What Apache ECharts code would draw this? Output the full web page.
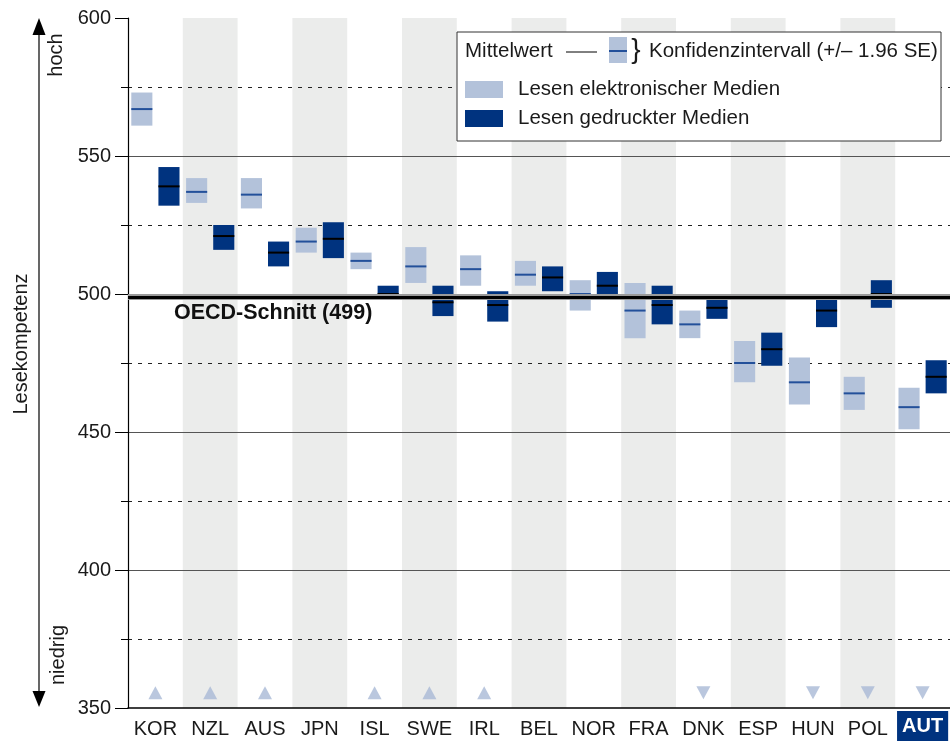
<!DOCTYPE html>
<html>
<head>
<meta charset="utf-8">
<script src="https://cdn.jsdelivr.net/npm/echarts@6/dist/echarts.min.js"></script>
<style>html,body{margin:0;padding:0;background:#fff}#c{width:950px;height:742px}</style>
</head>
<body>
<div id="c"></div>
<script>
// ---- data ----
const countries = ['KOR','NZL','AUS','JPN','ISL','SWE','IRL','BEL','NOR','FRA','DNK','ESP','HUN','POL','AUT'];
// Lesen elektronischer Medien
const elecMean = [567, 537, 536, 519, 512, 510, 509, 507, 500, 494, 489, 475, 468, 464, 459];
const elecLow  = [561, 533, 531, 515, 509, 504, 503, 503, 494, 484, 484, 468, 460, 458, 451];
const elecHigh = [573, 542, 542, 524, 515, 517, 514, 512, 505, 504, 494, 483, 477, 470, 466];
// Lesen gedruckter Medien
const printMean = [539, 521, 515, 520, 500, 497, 496, 506, 503, 496, 495, 480, 494, 500, 470];
const printLow  = [532, 516, 510, 513, 498, 492, 490, 501, 498, 489, 491, 474, 488, 495, 464];
const printHigh = [546, 525, 519, 526, 503, 503, 501, 510, 508, 503, 499, 486, 500, 505, 476];
// significance markers
const arrows = ['up','up','up','','up','up','up','','','','down','','down','down','down'];
const oecdMean = 499;
const yTicks = [350, 400, 450, 500, 550, 600];

const FONT = '"Liberation Sans", Arial, Helvetica, sans-serif';
const LIGHT = '#b3c2da', DARK = '#00337f';
const MARKER_LEVEL = 355.5;

function render(side, fill, meanColor) {
  return function (params, api) {
    const i = api.value(0);
    const pLo = api.coord([i, api.value(1)]);
    const pHi = api.coord([i, api.value(2)]);
    const pM = api.coord([i, api.value(3)]);
    const bw = api.size([1, 0])[0];
    const w = bw * 0.385, gap = bw * 0.055;
    const x0 = side < 0 ? pLo[0] - gap - w : pLo[0] + gap;
    return {
      type: 'group',
      children: [
        { type: 'rect', shape: { x: x0, y: pHi[1], width: w, height: pLo[1] - pHi[1] }, style: { fill: fill } },
        { type: 'line', shape: { x1: x0, y1: pM[1], x2: x0 + w, y2: pM[1] }, style: { stroke: meanColor, lineWidth: 2 } }
      ]
    };
  };
}

const elecData = countries.map((c, i) => [i, elecLow[i], elecHigh[i], elecMean[i]]);
const printData = countries.map((c, i) => [i, printLow[i], printHigh[i], printMean[i]]);
const markerData = [];
arrows.forEach((a, i) => {
  if (a) markerData.push({ value: [i, MARKER_LEVEL], symbolRotate: a === 'down' ? 180 : 0 });
});

const LEG_FONT = '20.5px ' + FONT;

const chart = echarts.init(document.getElementById('c'), null, { renderer: 'canvas' });
chart.setOption({
  animation: false,
  backgroundColor: '#fff',
  textStyle: { fontFamily: FONT },
  grid: { left: 128, right: 0, top: 18, bottom: 34, containLabel: false, outerBoundsMode: 'none' },
  xAxis: {
    type: 'category',
    data: countries,
    boundaryGap: true,
    z: 0,
    axisLine: { show: true, lineStyle: { color: '#000', width: 1.5 } },
    axisTick: { show: false },
    splitArea: { show: true, interval: 0, areaStyle: { color: ['rgba(255,255,255,0)', '#ebeceb'] } },
    axisLabel: {
      interval: 0, margin: 3, fontSize: 20, color: '#1a1a1a', fontFamily: FONT,
      formatter: v => v === 'AUT' ? '{hl|' + v + '}' : '{n|' + v + '}',
      rich: {
        n: { fontSize: 20, color: '#1a1a1a', padding: [8, 0, 0, 0], fontFamily: FONT },
        hl: { backgroundColor: DARK, color: '#fff', fontWeight: 'bold', fontSize: 20, padding: [5, 5, 5, 5], fontFamily: FONT }
      }
    }
  },
  yAxis: {
    type: 'value', min: 350, max: 600, interval: 50,
    z: 1,
    axisLine: { show: true, lineStyle: { color: '#000', width: 1.2 } },
    axisTick: { show: true, length: 13, lineStyle: { color: '#000' } },
    minorTick: { show: true, splitNumber: 2, length: 7, lineStyle: { color: '#000' } },
    axisLabel: { fontSize: 20, color: '#1a1a1a', margin: 17, fontFamily: FONT,
      formatter: v => yTicks.indexOf(v) >= 0 ? String(v) : '' },
    splitLine: { show: true, showMinLine: false, showMaxLine: false, lineStyle: { color: '#555', width: 1.2 } },
    minorSplitLine: { show: true, lineStyle: { color: '#222', width: 1, type: [4, 6] } }
  },
  legend: {
    data: ['Lesen elektronischer Medien', 'Lesen gedruckter Medien'],
    orient: 'vertical', left: 465, top: 79, itemGap: 8, z: 60, padding: 0,
    icon: 'rect', itemWidth: 38, itemHeight: 17,
    textStyle: { fontSize: 20.5, color: '#1a1a1a', fontFamily: FONT, padding: [0, 0, 0, 10], lineHeight: 17 },
    selectedMode: false
  },
  series: [
    {
      name: 'Lesen elektronischer Medien', type: 'custom', data: elecData,
      itemStyle: { color: LIGHT }, renderItem: render(-1, LIGHT, '#23509a'), z: 3,
      markLine: {
        silent: true, symbol: 'none', animation: false,
        data: [
          { yAxis: oecdMean, lineStyle: { color: '#9a9a9a', width: 6, type: 'solid' }, label: { show: false } },
          { yAxis: oecdMean, lineStyle: { color: '#000', width: 3, type: 'solid' },
            label: { show: true, position: 'insideStartBottom', formatter: 'OECD-Schnitt (' + oecdMean + ')',
              fontSize: 21.5, fontWeight: 'bold', color: '#111', fontFamily: FONT, distance: [46, 5] } }
        ]
      }
    },
    {
      name: 'Lesen gedruckter Medien', type: 'custom', data: printData,
      itemStyle: { color: DARK }, renderItem: render(1, DARK, '#000'), z: 3
    },
    {
      name: 'markers', type: 'scatter', data: markerData, symbol: 'triangle', symbolSize: [14, 13],
      itemStyle: { color: '#a9b9d6' }, silent: true, z: 2
    }
  ],
  graphic: [
    // y-axis title arrow
    { type: 'line', shape: { x1: 39, y1: 30, x2: 39, y2: 695 }, style: { stroke: '#000', lineWidth: 1.2 } },
    { type: 'polygon', shape: { points: [[39, 18], [32.5, 35], [45.5, 35]] }, style: { fill: '#000' } },
    { type: 'polygon', shape: { points: [[39, 707], [32.5, 691], [45.5, 691]] }, style: { fill: '#000' } },
    { type: 'text', x: 21, y: 344, rotation: Math.PI / 2,
      style: { text: 'Lesekompetenz', font: '20px ' + FONT, fill: '#1a1a1a', align: 'center', verticalAlign: 'middle' } },
    { type: 'text', x: 56, y: 55, rotation: Math.PI / 2,
      style: { text: 'hoch', font: '20px ' + FONT, fill: '#1a1a1a', align: 'center', verticalAlign: 'middle' } },
    { type: 'text', x: 58, y: 655, rotation: Math.PI / 2,
      style: { text: 'niedrig', font: '20px ' + FONT, fill: '#1a1a1a', align: 'center', verticalAlign: 'middle' } },
    // legend box
    { type: 'rect', shape: { x: 457, y: 32, width: 484, height: 109 }, style: { fill: '#fff', stroke: '#333', lineWidth: 1 }, z: 50 },
    { type: 'text', x: 465, y: 51, z: 51,
      style: { text: 'Mittelwert', font: LEG_FONT, fill: '#1a1a1a', verticalAlign: 'middle' } },
    { type: 'line', z: 51, shape: { x1: 566, y1: 52, x2: 597, y2: 52 }, style: { stroke: '#000', lineWidth: 1 } },
    { type: 'rect', z: 51, shape: { x: 609, y: 37, width: 18, height: 26 }, style: { fill: LIGHT } },
    { type: 'line', z: 52, shape: { x1: 609, y1: 51, x2: 627, y2: 51 }, style: { stroke: '#23509a', lineWidth: 2 } },
    { type: 'text', x: 636, y: 50, z: 51,
      style: { text: '}', font: '28px ' + FONT, fill: '#1a1a1a', align: 'center', verticalAlign: 'middle' } },
    { type: 'text', x: 649, y: 51, z: 51,
      style: { text: 'Konfidenzintervall (+/– 1.96 SE)', font: LEG_FONT, fill: '#1a1a1a', verticalAlign: 'middle' } }
  ]
});
</script>
</body>
</html>
